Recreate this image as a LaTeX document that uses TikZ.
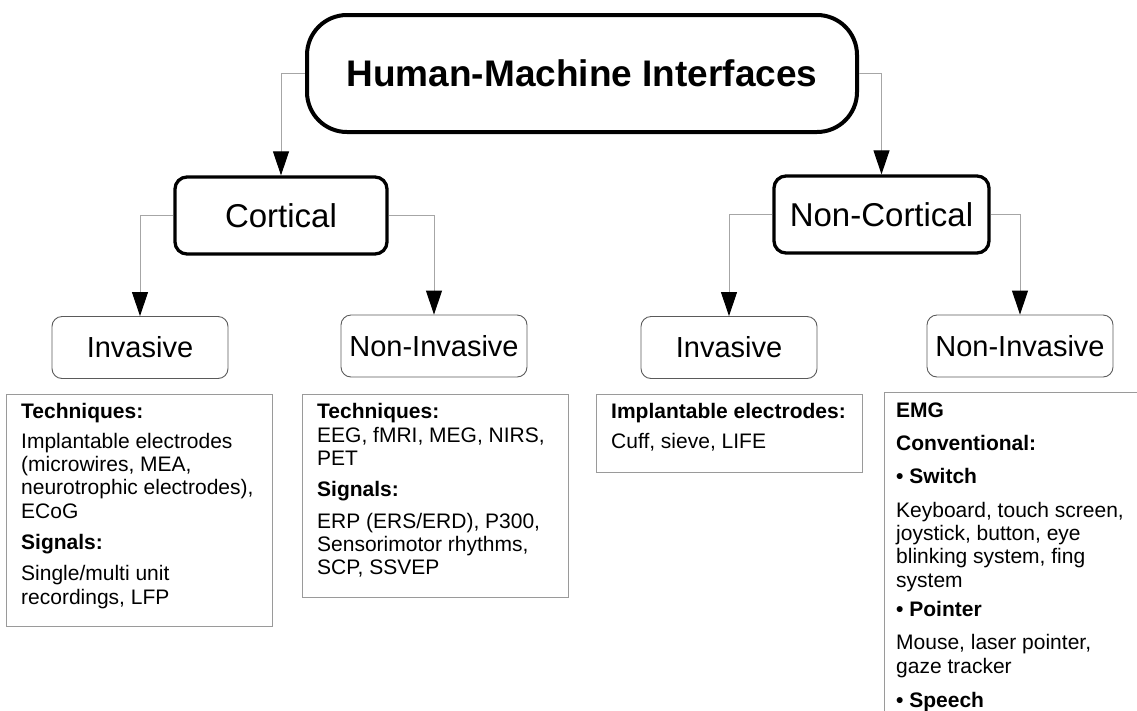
\documentclass[tikz,border=0pt]{standalone}
\usepackage{fontspec}
\setmainfont{Liberation Sans}
\usetikzlibrary{arrows.meta}
\definecolor{linegray}{HTML}{A6A6A6}
\definecolor{boxgray}{HTML}{9A9A9A}
\definecolor{lvgray}{HTML}{5A5A5A}
\begin{document}
\begin{tikzpicture}[x=1pt,y=-1pt,
  titlebox/.style={draw=black,line width=4pt,rounded corners=40pt,minimum width=550pt,minimum height=117pt,inner sep=0pt,font=\fontsize{37}{44}\selectfont\bfseries},
  catbox/.style={draw=black,line width=3.3pt,rounded corners=12pt,minimum height=77pt,inner sep=0pt,font=\fontsize{33}{40}\selectfont},
  subbox/.style={draw=lvgray,line width=0.9pt,rounded corners=10pt,minimum height=62pt,inner sep=0pt,font=\fontsize{29}{35}\selectfont},
  infobox/.style={draw=boxgray,line width=1pt,inner sep=0pt,minimum width=266pt,anchor=north west},
  infotext/.style={anchor=north west,inner sep=0pt,align=left,font=\fontsize{21}{23.3}\selectfont},
  conn/.style={draw=linegray,line width=1pt,-{Triangle[width=16pt,length=24pt,black]}},
]
\useasboundingbox (0,0) rectangle (1137,710);
\clip (0,0) rectangle (1137,710);

\node[titlebox] (hmi) at (582,73.5) {Human-Machine Interfaces};
\node[catbox,minimum width=212pt] (cort) at (281,215.5) {Cortical};
\node[catbox,minimum width=215pt] (ncort) at (881.5,214.5) {Non-Cortical};
\node[subbox,minimum width=176pt] (cinv) at (140,347.5) {Invasive};
\node[subbox,minimum width=186pt] (cninv) at (434,346) {Non-Invasive};
\node[subbox,minimum width=176pt] (ninv) at (729,347.5) {Invasive};
\node[subbox,minimum width=186pt] (nninv) at (1020,346) {Non-Invasive};

\draw[conn] (hmi.west) -| (cort.north);
\draw[conn] (hmi.east) -| (ncort.north);
\draw[conn] (cort.west) -| (cinv.north);
\draw[conn] (cort.east) -| (cninv.north);
\draw[conn] (ncort.west) -| (ninv.north);
\draw[conn] (ncort.east) -| (nninv.north);

\node[infobox,minimum height=232pt] (b1) at (6,394) {};
\node[infobox,minimum height=203pt] (b2) at (302,394) {};
\node[infobox,minimum height=78pt] (b3) at (596,394) {};
\node[infobox,minimum height=340pt] (b4) at (884,392) {};

\node[infotext] (t1) at (21,403.5) {\textbf{Techniques:}\\[6pt]
Implantable electrodes\\
(microwires, MEA,\\
neurotrophic electrodes),\\
ECoG\\[8pt]
\textbf{Signals:}\\[8pt]
Single/multi unit\\
recordings, LFP};

\node[infotext] (t2) at (317,403.5) {\textbf{Techniques:}\\
EEG, fMRI, MEG, NIRS,\\
PET\\[8pt]
\textbf{Signals:}\\[8pt]
ERP (ERS/ERD), P300,\\
Sensorimotor rhythms,\\
SCP, SSVEP};

\node[infotext] (t3) at (611,403.5) {\textbf{Implantable electrodes:}\\[6pt]
Cuff, sieve, LIFE};

\node[infotext] (t4) at (896,402.5) {\textbf{EMG}\\[10pt]
\textbf{Conventional:}\\[10pt]
\textbf{• Switch}\\[10pt]
Keyboard, touch screen,\\
joystick, button, eye\\
blinking system, fing\\
system\\[6pt]
\textbf{• Pointer}\\[10pt]
Mouse, laser pointer,\\
gaze tracker\\[11pt]
\textbf{• Speech}};
\end{tikzpicture}
\end{document}
